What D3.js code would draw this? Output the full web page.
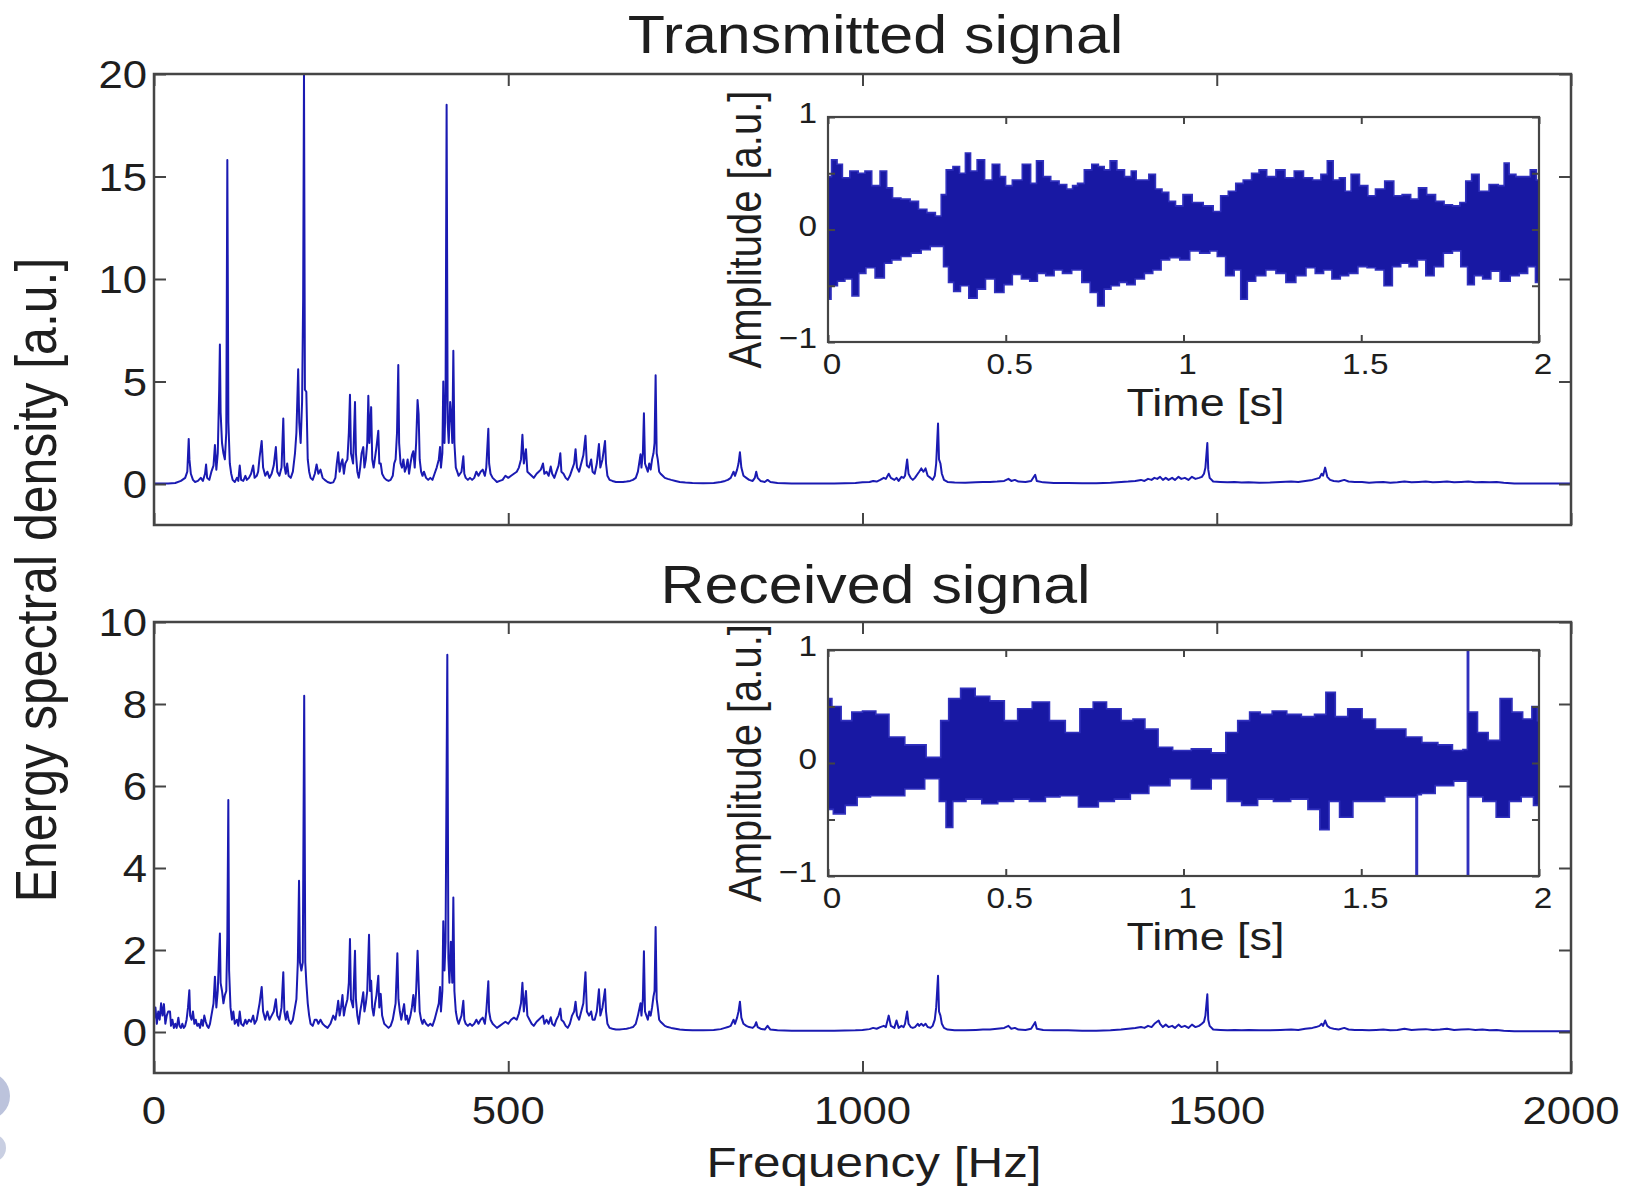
<!DOCTYPE html>
<html><head><meta charset="utf-8">
<script src="https://cdn.jsdelivr.net/npm/d3@7"></script>
<style>
body{margin:0;background:#fff}
svg{display:block}
text{font-family:"Liberation Sans",Arial,sans-serif;fill:#1e1e1e}
</style>
</head><body>
<svg id="chart" width="1628" height="1191"></svg>
<script>
// ---------------- data ----------------
const freqTicks = [0, 500, 1000, 1500, 2000];
const txEsdTicks = [0, 5, 10, 15, 20];
const rxEsdTicks = [0, 2, 4, 6, 8, 10];
const timeTicks = [0, 0.5, 1, 1.5, 2];
const timeTickLabels = ["0", "0.5", "1", "1.5", "2"];
const ampTicks = [-1, -0.5, 0, 0.5, 1];
const ampTickLabels = [[-1, "\u22121"], [0, "0"], [1, "1"]];
const titles = ["Transmitted signal", "Received signal"];

// transmitted energy spectral density: [frequency Hz, ESD a.u.]
const txSpectrum = [[0,0.02],[10,0.02],[20,0.03],[30,0.05],[38,0.15],[44,0.3],[47,0.6],[49,2.2],[50,1.2],[52,0.5],[55,0.2],[58,0.1],[62,0.15],[66,0.3],[69,0.15],[72,0.5],[73.5,0.95],[75,0.3],[78,0.2],[81,0.6],[84,0.9],[86,1.9],[88,0.7],[90,1.5],[92,4.6],[93,6.8],[94,3.5],[96,2.0],[98,1.5],[100,1.2],[102,2.5],[103.5,15.8],[105,3.0],[107,1.0],[109,0.5],[111,0.2],[114,0.1],[117,0.3],[119,0.15],[121,0.9],[123,0.2],[126,0.15],[129,0.4],[131,0.2],[134,0.3],[137,0.5],[140,0.9],[142,0.3],[145,0.4],[147,0.6],[149,1.3],[152,2.1],[154,0.8],[157,0.4],[160,0.6],[163,0.3],[166,0.5],[169,0.9],[172,1.8],[174,0.6],[177,0.4],[180,0.8],[182.5,3.2],[184,0.9],[186,0.5],[188,1.0],[190,0.4],[193,0.3],[196,0.6],[199,1.5],[201,2.5],[203.5,5.6],[205,3.0],[207,2.0],[209,4.0],[210.5,9.0],[211.7,20],[213,4.6],[215,4.5],[217,1.2],[219,0.6],[221,0.3],[224,0.2],[227,0.5],[229.5,0.95],[232,0.5],[235,0.7],[238,0.3],[241,0.2],[245,0.1],[249,0.05],[253,0.08],[256,0.3],[258,1.0],[260,1.55],[262,0.6],[264,1.0],[266,1.2],[268,0.5],[270,1.0],[273,1.2],[275,2.5],[276.6,4.35],[278,1.5],[281,1.0],[283.7,4.0],[285,1.5],[287,0.6],[289,0.3],[291,0.8],[293,1.5],[295.4,1.8],[297,0.8],[299,1.2],[301,2.0],[302.5,4.3],[304,2.0],[306.5,3.75],[308,1.2],[310,0.8],[312,1.3],[314,1.8],[316.6,2.6],[318,1.0],[320,1.0],[322,0.5],[325,0.3],[328,0.2],[331,0.15],[334,0.2],[337,0.4],[339,1.0],[341,1.2],[343,2.5],[344.8,5.8],[346,2.0],[348,1.0],[350,0.8],[352,1.2],[354,0.6],[356,0.8],[358,1.2],[360,0.5],[362,1.0],[364,1.4],[366,1.6],[368,0.8],[370,2.0],[372,4.1],[373.5,3.4],[375,1.2],[377,0.6],[379,0.4],[381,0.6],[384,0.3],[387,0.2],[390,0.3],[393,0.2],[396,0.5],[399,0.8],[402,1.2],[403.7,1.8],[405,0.8],[407,1.5],[408.3,5.0],[410,2.0],[411.5,4.0],[413,18.5],[414.5,3.0],[416,2.0],[418,4.0],[420,3.0],[421,2.0],[422.5,6.5],[424,2.0],[426,0.8],[428,0.6],[430,0.4],[432,0.5],[434,0.6],[436.6,1.35],[438,0.5],[440,0.3],[443,0.2],[446,0.3],[449,0.2],[452,0.3],[455,0.6],[458,0.4],[461,0.6],[464,0.7],[467,0.4],[469,0.8],[471.9,2.7],[473,1.0],[475,0.5],[478,0.3],[481,0.2],[484,0.1],[488,0.15],[492,0.2],[496,0.4],[500,0.3],[504,0.4],[508,0.5],[512,0.6],[515,0.8],[518,1.2],[520,2.4],[522,1.0],[525,1.7],[527,0.6],[530,0.5],[533,0.4],[536,0.3],[540,0.5],[543,0.6],[546,0.7],[549,1.0],[551,0.5],[554,0.6],[557,0.4],[560,0.85],[562,0.5],[565,0.3],[568,0.6],[571,0.9],[573.5,1.5],[575,0.6],[578,0.5],[581,0.3],[584,0.2],[587,0.4],[590,0.7],[593,1.0],[595,1.7],[597,0.8],[600,0.6],[603,1.0],[606,1.4],[609,2.35],[611,0.9],[614,0.8],[617,1.2],[619,0.6],[622,0.5],[625,1.0],[628,1.95],[630,0.8],[633,1.2],[636.6,2.1],[638,1.0],[640,0.4],[643,0.2],[647,0.15],[652,0.1],[657,0.1],[662,0.1],[667,0.12],[672,0.15],[676,0.2],[680,0.3],[683,0.6],[686.7,1.45],[688,0.8],[690,1.5],[691.5,3.45],[693,1.0],[695,0.8],[697,0.6],[699,1.0],[701,0.7],[703,1.2],[705,1.5],[706.5,2.0],[708,5.3],[709.5,1.5],[711,1.2],[713,0.6],[715,0.5],[718,0.4],[721,0.3],[725,0.25],[730,0.2],[736,0.15],[742,0.1],[750,0.07],[760,0.05],[775,0.04],[790,0.05],[800,0.1],[806,0.15],[810,0.2],[814,0.3],[818,0.6],[820,0.4],[823,0.7],[825,1.0],[827,1.55],[829,0.8],[832,0.4],[836,0.3],[840,0.2],[845,0.15],[848,0.3],[850,0.6],[852,0.3],[856,0.15],[862,0.1],[866,0.2],[870,0.1],[880,0.05],[900,0.03],[930,0.03],[960,0.03],[990,0.05],[1000,0.08],[1010,0.1],[1015,0.15],[1020,0.12],[1025,0.2],[1030,0.3],[1033,0.25],[1037,0.5],[1040,0.3],[1045,0.2],[1048,0.3],[1051,0.15],[1055,0.35],[1058,0.3],[1060,0.4],[1063,1.2],[1065,0.5],[1068,0.3],[1071,0.2],[1074,0.3],[1078,0.5],[1080,0.6],[1083,0.76],[1086,0.6],[1089,0.76],[1092,0.4],[1096,0.3],[1099,0.2],[1102,0.4],[1104,1.0],[1106.6,2.95],[1108,1.2],[1110,1.0],[1112,0.5],[1115,0.2],[1120,0.1],[1130,0.07],[1145,0.06],[1160,0.08],[1170,0.1],[1180,0.1],[1190,0.12],[1200,0.15],[1206,0.25],[1210,0.15],[1215,0.2],[1220,0.12],[1230,0.1],[1238,0.15],[1243.7,0.45],[1246,0.15],[1255,0.08],[1270,0.05],[1290,0.05],[1310,0.04],[1330,0.04],[1350,0.06],[1365,0.1],[1375,0.12],[1385,0.15],[1393,0.2],[1398,0.15],[1403,0.25],[1408,0.2],[1412,0.3],[1416,0.25],[1420,0.35],[1424,0.2],[1428,0.3],[1432,0.2],[1437,0.3],[1441,0.2],[1446,0.35],[1450,0.25],[1455,0.3],[1460,0.2],[1465,0.35],[1470,0.25],[1475,0.3],[1479,0.35],[1482,0.5],[1484,0.8],[1486.7,2.0],[1488,0.7],[1490,0.3],[1495,0.12],[1505,0.1],[1515,0.08],[1525,0.1],[1535,0.07],[1545,0.08],[1560,0.06],[1575,0.07],[1590,0.1],[1605,0.12],[1615,0.1],[1625,0.15],[1635,0.2],[1640,0.25],[1645,0.3],[1648,0.5],[1650,0.4],[1653,0.8],[1656,0.35],[1660,0.2],[1665,0.15],[1672,0.12],[1680,0.2],[1686,0.12],[1695,0.1],[1705,0.1],[1715,0.06],[1725,0.08],[1735,0.1],[1745,0.06],[1755,0.08],[1765,0.12],[1775,0.08],[1785,0.1],[1795,0.12],[1805,0.08],[1815,0.1],[1825,0.12],[1835,0.08],[1845,0.1],[1855,0.12],[1865,0.08],[1875,0.1],[1885,0.08],[1895,0.1],[1905,0.06],[1920,0.03],[1940,0.02],[1970,0.02],[2000,0.02]];

// received energy spectral density: [frequency Hz, ESD a.u.]
const rxSpectrum = [[0,0.3],[2,0.6],[4,0.2],[6,0.5],[8,0.3],[10,0.7],[12,0.4],[14,0.68],[16,0.2],[18,0.4],[20,0.5],[22.6,0.5],[24,0.15],[26,0.3],[28,0.1],[30,0.2],[32,0.1],[34.4,0.35],[36,0.15],[38,0.1],[40,0.2],[42,0.1],[44,0.15],[46,0.3],[48,0.6],[49.9,1.02],[51,0.4],[53,0.3],[55,0.5],[57,0.2],[59,0.3],[61,0.15],[63,0.2],[65,0.1],[67,0.3],[69,0.15],[71,0.4],[73,0.25],[75,0.15],[77,0.1],[79,0.2],[81,0.4],[84,0.7],[86,1.35],[88,0.6],[90,1.0],[92,2.0],[93,2.4],[94,1.2],[96,1.0],[98,0.7],[100,0.9],[102,1.0],[103.5,2.3],[104.9,5.66],[106,1.5],[108,0.6],[110,0.3],[112,0.5],[114,0.2],[117,0.3],[119,0.15],[121,0.5],[123,0.2],[126,0.15],[129,0.3],[131,0.2],[134,0.3],[137,0.25],[140,0.4],[142,0.2],[145,0.3],[147,0.5],[149,0.7],[152,1.1],[154,0.5],[157,0.3],[160,0.5],[163,0.3],[166,0.4],[169,0.5],[172,0.8],[174,0.4],[177,0.3],[180,0.6],[182.5,1.46],[184,0.5],[186,0.3],[188,0.5],[190,0.3],[193,0.2],[196,0.3],[199,0.6],[201,0.8],[203,1.7],[204.7,3.69],[206,1.7],[208,1.5],[210,1.7],[212,8.2],[213.5,1.7],[215,1.2],[217,0.7],[219,0.4],[221,0.2],[224,0.15],[227,0.3],[229.5,0.3],[232,0.2],[235,0.3],[238,0.2],[241,0.15],[245,0.1],[249,0.2],[253,0.4],[256,0.3],[258,0.5],[260,0.76],[262,0.4],[264,0.6],[266,0.9],[268,0.4],[270,0.6],[273,0.8],[275,1.2],[276.6,2.27],[278,0.8],[281,0.6],[283.7,1.98],[285,0.8],[287,0.4],[289,0.2],[291,0.5],[293,0.7],[295.4,0.97],[297,0.5],[299,0.7],[301,1.0],[303.5,2.37],[305,1.0],[306.5,1.25],[308,0.6],[310,0.4],[312,0.7],[314,0.9],[316.6,1.37],[318,0.6],[320,0.93],[322,0.4],[325,0.2],[328,0.15],[331,0.1],[334,0.15],[337,0.3],[339,0.5],[341,0.7],[343.5,1.92],[345,0.8],[347,0.5],[349,0.3],[351,0.5],[353,0.68],[355,0.3],[357,0.4],[359,0.2],[362,0.4],[364,0.6],[366,0.9],[368,0.5],[370,1.0],[372,1.98],[373.5,1.2],[375,0.5],[377,0.3],[379,0.2],[381,0.3],[384,0.2],[387,0.15],[390,0.2],[393,0.15],[396,0.3],[399,0.5],[402,0.7],[403.7,1.1],[405,0.5],[407,1.0],[408.3,2.7],[410,1.5],[411.5,2.2],[414,9.2],[415.5,1.8],[417,1.2],[419,2.2],[421,1.2],[422.5,3.28],[424,1.0],[426,0.5],[428,0.3],[430,0.2],[432,0.3],[434,0.4],[436.6,0.76],[438,0.3],[440,0.2],[443,0.15],[446,0.2],[449,0.15],[452,0.2],[455,0.3],[458,0.2],[461,0.3],[464,0.35],[467,0.2],[469,0.5],[471.9,1.24],[473,0.5],[475,0.3],[478,0.2],[481,0.15],[484,0.1],[488,0.15],[492,0.2],[496,0.25],[500,0.2],[504,0.3],[508,0.35],[512,0.3],[515,0.45],[518,0.7],[520,1.2],[522,0.5],[525,1.0],[527,0.4],[530,0.3],[533,0.2],[536,0.15],[540,0.25],[543,0.3],[546,0.35],[549,0.4],[551,0.2],[554,0.3],[557,0.2],[560,0.36],[562,0.2],[565,0.15],[568,0.3],[571,0.4],[573.5,0.57],[575,0.3],[578,0.25],[581,0.15],[584,0.1],[587,0.2],[590,0.4],[593,0.5],[595,0.74],[597,0.4],[600,0.3],[603,0.5],[606,0.7],[609,1.46],[611,0.5],[614,0.4],[617,0.5],[619,0.3],[622,0.3],[625,0.5],[628,1.04],[630,0.4],[633,0.6],[636.6,1.04],[638,0.5],[640,0.2],[643,0.1],[647,0.08],[652,0.06],[657,0.06],[662,0.07],[667,0.08],[672,0.1],[676,0.12],[680,0.2],[683,0.4],[686.7,0.7],[688,0.4],[690,0.8],[691.5,1.97],[693,0.5],[695,0.4],[697,0.3],[699,0.5],[701,0.4],[703,0.6],[705,0.87],[706.5,1.0],[708,2.56],[709.5,0.8],[711,0.6],[713,0.3],[715,0.25],[718,0.2],[721,0.15],[725,0.12],[730,0.1],[736,0.08],[742,0.06],[750,0.05],[760,0.04],[775,0.04],[790,0.05],[800,0.07],[806,0.1],[810,0.12],[814,0.15],[818,0.3],[820,0.2],[823,0.35],[825,0.5],[827,0.74],[829,0.35],[832,0.2],[836,0.15],[840,0.12],[845,0.1],[848,0.15],[850,0.24],[852,0.12],[856,0.08],[862,0.06],[866,0.15],[870,0.06],[880,0.04],[900,0.03],[930,0.03],[960,0.03],[990,0.04],[1000,0.05],[1010,0.07],[1015,0.1],[1020,0.08],[1025,0.12],[1030,0.15],[1033,0.12],[1037,0.4],[1040,0.15],[1045,0.1],[1048,0.28],[1051,0.1],[1055,0.15],[1058,0.12],[1060,0.2],[1063,0.5],[1065,0.2],[1068,0.12],[1071,0.1],[1074,0.12],[1078,0.2],[1080,0.15],[1083,0.2],[1086,0.15],[1089,0.2],[1092,0.12],[1096,0.1],[1099,0.15],[1102,0.3],[1104,0.6],[1106.6,1.37],[1108,0.5],[1110,0.4],[1112,0.2],[1115,0.1],[1120,0.06],[1130,0.04],[1145,0.04],[1160,0.05],[1170,0.06],[1180,0.06],[1190,0.08],[1200,0.1],[1206,0.15],[1210,0.08],[1215,0.1],[1220,0.06],[1230,0.05],[1238,0.08],[1243.7,0.24],[1246,0.08],[1255,0.05],[1270,0.04],[1290,0.04],[1310,0.03],[1330,0.03],[1350,0.04],[1365,0.06],[1375,0.08],[1385,0.1],[1393,0.12],[1398,0.1],[1403,0.15],[1408,0.12],[1412,0.2],[1418,0.28],[1420,0.2],[1424,0.12],[1428,0.18],[1432,0.12],[1437,0.15],[1441,0.1],[1446,0.18],[1450,0.12],[1455,0.15],[1460,0.1],[1465,0.18],[1470,0.12],[1475,0.15],[1479,0.2],[1482,0.25],[1484,0.4],[1486.7,0.92],[1488,0.3],[1490,0.15],[1495,0.06],[1505,0.05],[1515,0.04],[1525,0.05],[1535,0.04],[1545,0.05],[1560,0.04],[1575,0.04],[1590,0.05],[1605,0.06],[1615,0.05],[1625,0.08],[1635,0.1],[1640,0.12],[1645,0.15],[1648,0.2],[1650,0.15],[1653,0.28],[1656,0.15],[1660,0.1],[1665,0.08],[1672,0.06],[1680,0.1],[1686,0.06],[1695,0.05],[1705,0.05],[1715,0.04],[1725,0.05],[1735,0.06],[1745,0.04],[1755,0.05],[1765,0.08],[1775,0.05],[1785,0.06],[1795,0.07],[1805,0.05],[1815,0.06],[1825,0.08],[1835,0.05],[1845,0.06],[1855,0.07],[1865,0.05],[1875,0.06],[1885,0.04],[1895,0.05],[1905,0.03],[1920,0.02],[1940,0.02],[1970,0.02],[2000,0.02]];

// time-domain envelopes (inset): [time s, amplitude a.u.]
const txUpper = [[0,0.47],[0.02,0.62],[0.031,0.58],[0.05,0.46],[0.073,0.52],[0.097,0.5],[0.111,0.52],[0.135,0.39],[0.158,0.52],[0.172,0.37],[0.191,0.28],[0.219,0.27],[0.243,0.25],[0.266,0.18],[0.29,0.15],[0.314,0.12],[0.323,0.31],[0.342,0.53],[0.361,0.56],[0.379,0.5],[0.394,0.68],[0.408,0.52],[0.431,0.62],[0.45,0.44],[0.474,0.58],[0.492,0.47],[0.507,0.39],[0.53,0.44],[0.563,0.58],[0.577,0.41],[0.596,0.61],[0.615,0.47],[0.638,0.43],[0.662,0.4],[0.681,0.36],[0.695,0.39],[0.709,0.41],[0.733,0.53],[0.751,0.58],[0.77,0.56],[0.784,0.53],[0.803,0.61],[0.822,0.53],[0.846,0.47],[0.86,0.52],[0.874,0.44],[0.893,0.44],[0.912,0.49],[0.93,0.36],[0.949,0.33],[0.968,0.25],[0.987,0.21],[1.01,0.31],[1.039,0.24],[1.072,0.21],[1.095,0.16],[1.114,0.3],[1.138,0.34],[1.156,0.41],[1.18,0.44],[1.203,0.5],[1.222,0.53],[1.246,0.47],[1.274,0.53],[1.297,0.46],[1.326,0.52],[1.349,0.46],[1.377,0.44],[1.396,0.49],[1.413,0.61],[1.429,0.44],[1.448,0.46],[1.462,0.34],[1.481,0.49],[1.509,0.39],[1.528,0.3],[1.552,0.36],[1.58,0.43],[1.603,0.3],[1.627,0.31],[1.651,0.27],[1.671,0.37],[1.697,0.31],[1.721,0.25],[1.745,0.22],[1.768,0.21],[1.787,0.24],[1.801,0.43],[1.82,0.49],[1.843,0.34],[1.876,0.4],[1.895,0.39],[1.909,0.59],[1.923,0.49],[1.947,0.47],[1.966,0.47],[1.985,0.53],[2,0.44]];
const txLower = [[0,-0.62],[0.017,-0.5],[0.036,-0.46],[0.059,-0.44],[0.076,-0.59],[0.097,-0.39],[0.116,-0.34],[0.149,-0.43],[0.168,-0.3],[0.191,-0.27],[0.219,-0.24],[0.248,-0.21],[0.276,-0.18],[0.299,-0.15],[0.318,-0.15],[0.332,-0.33],[0.346,-0.47],[0.361,-0.55],[0.384,-0.5],[0.408,-0.61],[0.431,-0.53],[0.455,-0.44],[0.483,-0.56],[0.507,-0.49],[0.53,-0.4],[0.558,-0.44],[0.577,-0.46],[0.601,-0.39],[0.624,-0.41],[0.648,-0.36],[0.671,-0.39],[0.7,-0.36],[0.728,-0.47],[0.747,-0.56],[0.77,-0.68],[0.784,-0.53],[0.808,-0.5],[0.831,-0.47],[0.85,-0.49],[0.878,-0.44],[0.902,-0.39],[0.925,-0.36],[0.949,-0.27],[0.973,-0.25],[1.006,-0.27],[1.029,-0.19],[1.062,-0.21],[1.086,-0.19],[1.104,-0.24],[1.133,-0.41],[1.152,-0.36],[1.17,-0.62],[1.189,-0.46],[1.217,-0.41],[1.246,-0.36],[1.274,-0.39],[1.302,-0.47],[1.33,-0.41],[1.359,-0.34],[1.382,-0.39],[1.406,-0.36],[1.429,-0.44],[1.453,-0.41],[1.476,-0.39],[1.505,-0.33],[1.528,-0.34],[1.552,-0.36],[1.576,-0.5],[1.599,-0.33],[1.623,-0.3],[1.646,-0.33],[1.67,-0.27],[1.693,-0.41],[1.717,-0.33],[1.745,-0.21],[1.768,-0.19],[1.792,-0.33],[1.806,-0.49],[1.83,-0.41],[1.853,-0.44],[1.876,-0.37],[1.905,-0.46],[1.933,-0.41],[1.956,-0.39],[1.98,-0.33],[2,-0.47]];
const rxUpper = [[0,0.57],[0.022,0.5],[0.052,0.375],[0.082,0.45],[0.112,0.46],[0.157,0.43],[0.186,0.23],[0.246,0.16],[0.306,0.05],[0.328,0.375],[0.351,0.57],[0.395,0.66],[0.433,0.59],[0.477,0.55],[0.515,0.375],[0.552,0.48],[0.597,0.54],[0.649,0.375],[0.686,0.27],[0.731,0.48],[0.761,0.54],[0.806,0.48],[0.843,0.375],[0.873,0.39],[0.91,0.3],[0.947,0.14],[0.992,0.11],[1.052,0.125],[1.104,0.09],[1.134,0.27],[1.171,0.375],[1.201,0.45],[1.231,0.43],[1.268,0.46],[1.313,0.43],[1.35,0.41],[1.387,0.43],[1.414,0.625],[1.44,0.41],[1.484,0.48],[1.521,0.39],[1.559,0.3],[1.603,0.3],[1.648,0.23],[1.693,0.18],[1.738,0.16],[1.775,0.11],[1.797,0.12],[1.8,1.0],[1.804,0.45],[1.812,0.45],[1.842,0.27],[1.872,0.2],[1.909,0.57],[1.939,0.45],[1.969,0.39],[1.991,0.5],[2,0.375]];
const rxLower = [[0,-0.41],[0.03,-0.45],[0.067,-0.375],[0.097,-0.3],[0.142,-0.29],[0.186,-0.29],[0.246,-0.23],[0.298,-0.14],[0.328,-0.34],[0.336,-0.57],[0.366,-0.34],[0.41,-0.32],[0.455,-0.36],[0.5,-0.34],[0.544,-0.32],[0.589,-0.34],[0.634,-0.3],[0.671,-0.29],[0.738,-0.39],[0.783,-0.34],[0.828,-0.32],[0.873,-0.27],[0.932,-0.2],[0.992,-0.14],[1.052,-0.23],[1.104,-0.14],[1.141,-0.34],[1.186,-0.375],[1.231,-0.32],[1.275,-0.34],[1.328,-0.32],[1.372,-0.41],[1.395,-0.59],[1.424,-0.34],[1.454,-0.48],[1.499,-0.34],[1.544,-0.34],[1.588,-0.3],[1.633,-0.3],[1.652,-0.3],[1.656,-1.0],[1.66,-0.28],[1.678,-0.27],[1.738,-0.2],[1.782,-0.16],[1.797,-0.16],[1.8,-1.0],[1.804,-0.3],[1.827,-0.3],[1.857,-0.34],[1.902,-0.48],[1.931,-0.34],[1.969,-0.3],[2,-0.375]];

// ---------------- layout ----------------
const svg = d3.select("#chart");
const INK = "#1e1e1e", BOX = "#454545", LINE = "#1a1ab2", FILL = "#1818a3";
const SX = 1.15; // horizontal stretch of lettering seen in the reference

function hText(g, x, y, s, size, anchor) {
  return g.append("text")
    .attr("transform", `translate(${x},${y}) scale(${SX},1)`)
    .attr("text-anchor", anchor).attr("font-size", size).text(s);
}
function vText(g, x, y, s, size) {
  return g.append("text")
    .attr("transform", `translate(${x},${y}) rotate(-90) scale(1,${SX})`)
    .attr("text-anchor", "middle").attr("font-size", size).text(s);
}

const mainX = [154, 1571];
const panels = [
  {title: titles[0], spectrum: txSpectrum, yDom: [-2, 20], yTicks: txEsdTicks, top: 74, bottom: 525,
   titleY: 53, inset: {top: 117, bottom: 342, upper: txUpper, lower: txLower}, xLabels: false},
  {title: titles[1], spectrum: rxSpectrum, yDom: [-1, 10], yTicks: rxEsdTicks, top: 622, bottom: 1073,
   titleY: 603, inset: {top: 650, bottom: 876, upper: rxUpper, lower: rxLower}, xLabels: true}
];
const insetX = [828, 1539];

// decorative partial logo circles at left edge
svg.append("circle").attr("cx", -14).attr("cy", 1096).attr("r", 24).attr("fill", "#bcc3dc");
svg.append("circle").attr("cx", -8).attr("cy", 1148).attr("r", 14).attr("fill", "#c9cfe2");

panels.forEach((p, i) => {
  const g = svg.append("g");
  const x = d3.scaleLinear().domain([0, 2000]).range(mainX);
  const y = d3.scaleLinear().domain(p.yDom).range([p.bottom, p.top]);

  g.append("clipPath").attr("id", "clipMain" + i)
    .append("rect").attr("x", mainX[0]).attr("y", p.top).attr("width", mainX[1] - mainX[0]).attr("height", p.bottom - p.top);

  // spectrum line
  g.append("path").datum(p.spectrum)
    .attr("clip-path", `url(#clipMain${i})`)
    .attr("fill", "none").attr("stroke", LINE).attr("stroke-width", 2).attr("stroke-linejoin", "round")
    .attr("d", d3.line().x(d => x(d[0])).y(d => y(d[1])));

  // axes (inward ticks on all four sides)
  const tk = 12;
  const styleAxis = a => { a.select(".domain").remove(); a.selectAll("line").attr("stroke", BOX).attr("stroke-width", 2); };
  g.append("g").attr("transform", `translate(0,${p.bottom})`)
    .call(d3.axisBottom(x).tickValues(freqTicks).tickSize(-tk).tickSizeOuter(0).tickFormat("")).call(styleAxis);
  g.append("g").attr("transform", `translate(0,${p.top})`)
    .call(d3.axisTop(x).tickValues(freqTicks).tickSize(-tk).tickSizeOuter(0).tickFormat("")).call(styleAxis);
  g.append("g").attr("transform", `translate(${mainX[0]},0)`)
    .call(d3.axisLeft(y).tickValues(p.yTicks).tickSize(-tk).tickSizeOuter(0).tickFormat("")).call(styleAxis);
  g.append("g").attr("transform", `translate(${mainX[1]},0)`)
    .call(d3.axisRight(y).tickValues(p.yTicks).tickSize(-tk).tickSizeOuter(0).tickFormat("")).call(styleAxis);

  // inset
  const ins = p.inset;
  const tx = d3.scaleLinear().domain([0, 2]).range(insetX);
  const ay = d3.scaleLinear().domain([-1, 1]).range([ins.bottom, ins.top]);
  g.append("rect").attr("x", insetX[0]).attr("y", ins.top).attr("width", insetX[1] - insetX[0])
    .attr("height", ins.bottom - ins.top).attr("fill", "#fff");
  g.append("clipPath").attr("id", "clipIns" + i)
    .append("rect").attr("x", insetX[0]).attr("y", ins.top).attr("width", insetX[1] - insetX[0]).attr("height", ins.bottom - ins.top);
  const envLine = d3.line().curve(d3.curveStep).x(d => tx(d[0])).y(d => ay(d[1]));
  const envelope = ins.upper.concat(ins.lower.slice().reverse());
  g.append("path").datum(envelope)
    .attr("clip-path", `url(#clipIns${i})`)
    .attr("fill", FILL).attr("stroke", "#3030bd").attr("stroke-width", 1.6).attr("stroke-linejoin", "miter")
    .attr("d", d => envLine(d) + "Z");

  const itk = 7;
  g.append("g").attr("transform", `translate(0,${ins.bottom})`)
    .call(d3.axisBottom(tx).tickValues(timeTicks).tickSize(-itk).tickSizeOuter(0).tickFormat("")).call(styleAxis);
  g.append("g").attr("transform", `translate(0,${ins.top})`)
    .call(d3.axisTop(tx).tickValues(timeTicks).tickSize(-itk).tickSizeOuter(0).tickFormat("")).call(styleAxis);
  g.append("g").attr("transform", `translate(${insetX[0]},0)`)
    .call(d3.axisLeft(ay).tickValues(ampTicks).tickSize(-itk).tickSizeOuter(0).tickFormat("")).call(styleAxis);
  g.append("g").attr("transform", `translate(${insetX[1]},0)`)
    .call(d3.axisRight(ay).tickValues(ampTicks).tickSize(-itk).tickSizeOuter(0).tickFormat("")).call(styleAxis);
  g.append("rect").attr("x", insetX[0]).attr("y", ins.top).attr("width", insetX[1] - insetX[0])
    .attr("height", ins.bottom - ins.top).attr("fill", "none").attr("stroke", BOX).attr("stroke-width", 2.2);

  timeTicks.forEach((t, k) => hText(g, tx(t) + 4, ins.bottom + 32, timeTickLabels[k], 29, "middle"));
  ampTickLabels.forEach(([v, s]) => hText(g, insetX[0] - 11, ay(v) + 6, s, 29, "end"));
  hText(g, (insetX[0] + insetX[1]) / 2 + 22, ins.bottom + 74, "Time [s]", 39, "middle");
  vText(g, 761, (ins.top + ins.bottom) / 2, "Amplitude [a.u.]", 40);

  // main frame
  g.append("rect").attr("x", mainX[0]).attr("y", p.top).attr("width", mainX[1] - mainX[0])
    .attr("height", p.bottom - p.top).attr("fill", "none").attr("stroke", BOX).attr("stroke-width", 2.5);

  // main tick labels
  p.yTicks.forEach(v => hText(g, mainX[0] - 7, y(v) + 14, String(v), 38, "end"));
  if (p.xLabels) freqTicks.forEach(f => hText(g, x(f), p.bottom + 51, String(f), 38, "middle"));

  // title
  hText(g, (mainX[0] + mainX[1]) / 2 + 13, p.titleY, p.title, 53, "middle");
});

hText(svg, 874, 1177, "Frequency [Hz]", 43, "middle");
vText(svg, 56, 580, "Energy spectral density [a.u.]", 50);
svg.selectAll("text").attr("fill", INK);
</script>
</body></html>
